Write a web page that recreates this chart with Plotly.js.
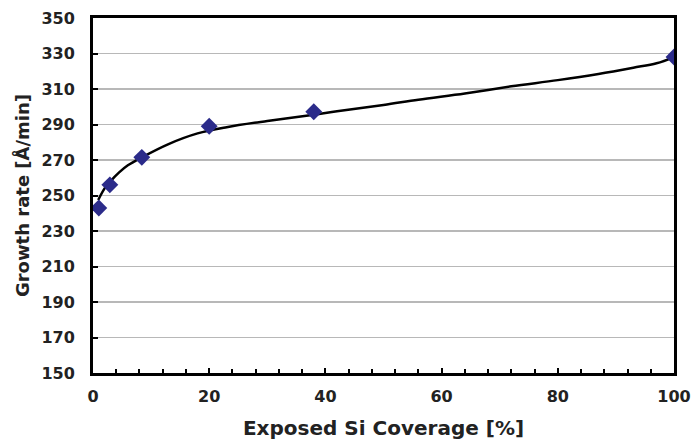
<!DOCTYPE html>
<html>
<head>
<meta charset="utf-8">
<script src="https://cdn.plot.ly/plotly-3.0.1.min.js"></script>
<style>html,body{margin:0;padding:0;background:#fff;}#chart{width:692px;height:440px;}</style>
</head>
<body>
<div id="chart"></div>
<script>
// measured data points
const coverage = [1, 2.9, 8.4, 20, 38, 100];
const growthRate = [243, 256, 271.5, 289, 297.2, 328];

// fitted trend curve
const fitX = [0.9, 2, 3, 4.5, 6, 8.4, 13, 18, 23, 30, 38, 42, 50, 56, 64, 72, 80, 87, 93, 97, 100];
const fitY = [247.5, 254, 258, 263, 267, 271.5, 279, 285, 288.5, 292, 295.5, 297.5, 301, 304, 307.5, 311.5, 315, 318.5, 322, 324.5, 328];

const yTicks = [150, 170, 190, 210, 230, 250, 270, 290, 310, 330, 350];
const xTicks = [0, 20, 40, 60, 80, 100];

const fam = 'DejaVu Sans, Arial, sans-serif';

Plotly.newPlot('chart', [
  {x: fitX, y: fitY, mode: 'lines', line: {color: '#000', width: 2.5, shape: 'spline', smoothing: 1}, hoverinfo: 'skip', showlegend: false},
  {x: coverage, y: growthRate, mode: 'markers', marker: {symbol: 'diamond', size: 13, color: '#2b2b8a'}, showlegend: false}
], {
  width: 692, height: 440,
  margin: {l: 93, r: 18, t: 18, b: 67},
  paper_bgcolor: '#fff', plot_bgcolor: '#fff',
  font: {family: fam, size: 16, color: '#222'},
  xaxis: {
    range: [0, 100], tickvals: xTicks, ticktext: xTicks.map(String),
    showgrid: false, zeroline: false,
    showline: true, mirror: true, linecolor: '#000', linewidth: 3,
    ticks: 'inside', ticklen: 5, tickwidth: 2, tickcolor: '#000',
    minor: {dtick: 4, tick0: 0, ticks: 'inside', ticklen: 4, tickwidth: 2, tickcolor: '#000', showgrid: false},
    ticklabelstandoff: 7,
    tickfont: {family: fam, size: 16, color: '#222', weight: 'bold'},
    title: {text: '<b>Exposed Si Coverage [%]</b>', font: {family: fam, size: 20, color: '#222'}, standoff: 16}
  },
  yaxis: {
    range: [150, 350], tickvals: yTicks, ticktext: yTicks.map(String),
    showgrid: true, gridcolor: '#b8b8b8', gridwidth: 1.5, zeroline: false,
    showline: true, mirror: true, linecolor: '#000', linewidth: 3,
    ticks: 'inside', ticklen: 5, tickwidth: 2, tickcolor: '#000',
    ticklabelstandoff: 12,
    tickfont: {family: fam, size: 16, color: '#222', weight: 'bold'},
    title: {text: '<b>Growth rate [Å/min]</b>', font: {family: fam, size: 18, color: '#222'}, standoff: 8}
  }
}, {staticPlot: true, displayModeBar: false});
</script>
</body>
</html>
